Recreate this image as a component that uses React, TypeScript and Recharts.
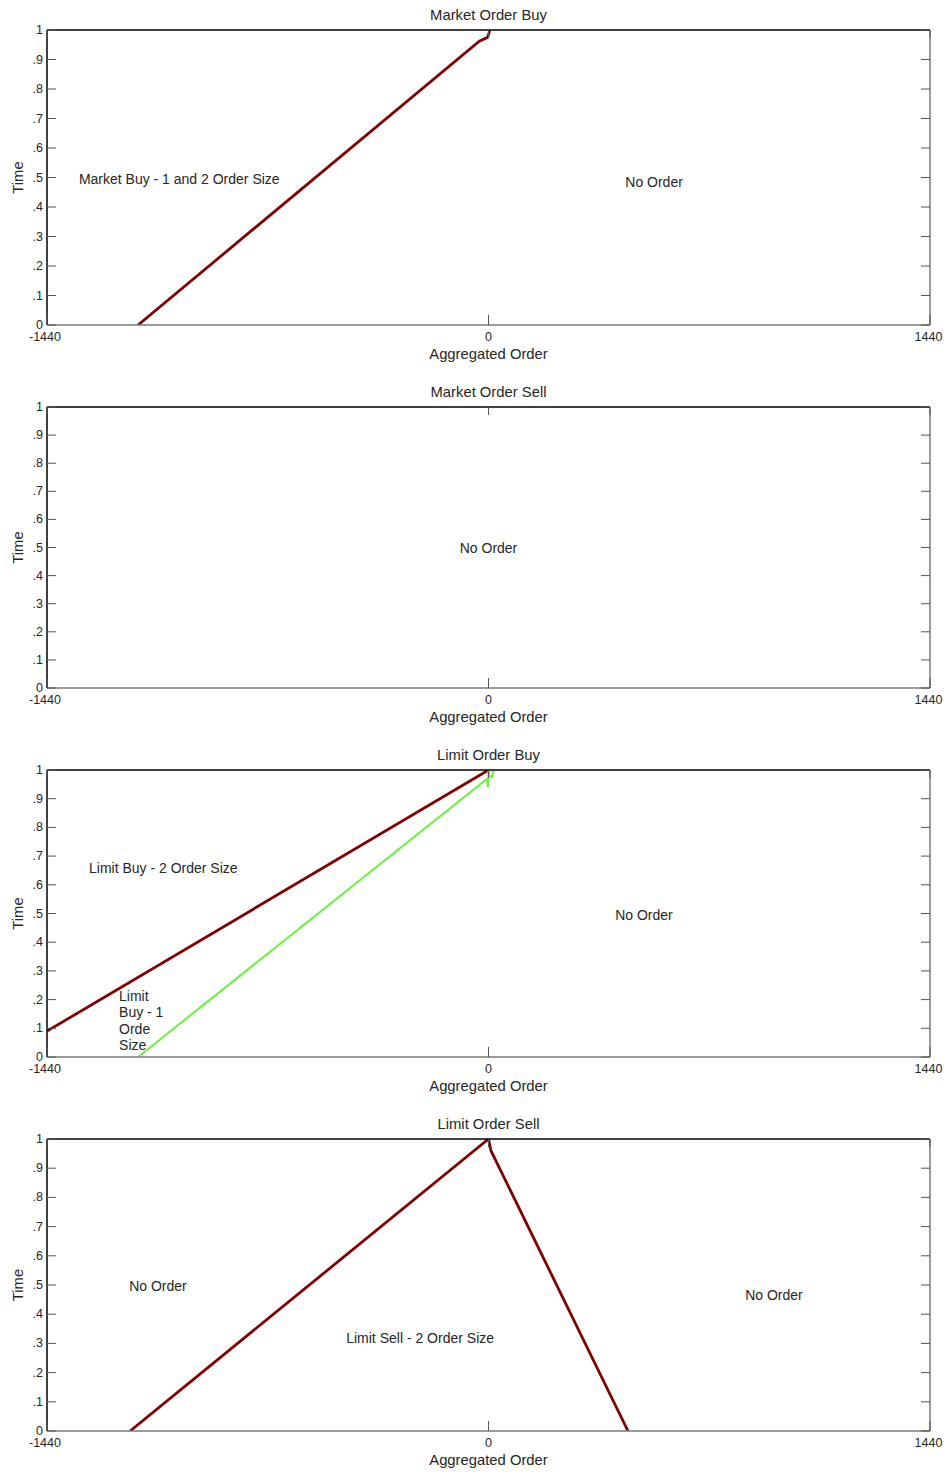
import React from 'react';
import { LineChart, Line, XAxis, YAxis, ReferenceDot, Label } from 'recharts';

const FONT = '"Liberation Sans", Arial, Helvetica, sans-serif';
const TEXT_COLOR = '#262626';
const TICK_COLOR = '#555555';
const RED = '#820000';
const GREEN = '#74f04e';
const TITLE_SIZE = 14.8;

const X_DOMAIN: [number, number] = [-1440, 1440];
const X_TICKS = [-1440, 0, 1440];
const X_TICK_LABELS = ['-1440', '0', '1440'];
const Y_TICKS = [0, 0.1, 0.2, 0.3, 0.4, 0.5, 0.6, 0.7, 0.8, 0.9, 1];
const Y_TICK_LABELS = ['0', '.1', '.2', '.3', '.4', '.5', '.6', '.7', '.8', '.9', '1'];

const X_LABEL = 'Aggregated Order';
const Y_LABEL = 'Time';

const PANEL_TITLES = ['Market Order Buy', 'Market Order Sell', 'Limit Order Buy', 'Limit Order Sell'];

// series data (x = aggregated order, y = time)
const marketBuyX = [-1143, -30, -3, 2, 3];
const marketBuyY = [0, 0.962, 0.975, 0.99, 1];

const limitBuy2X = [-1440, 0];
const limitBuy2Y = [0.09, 1];

const limitBuy1X = [-1143, -4, -2, 0, 3, 13, 14];
const limitBuy1Y = [0, 0.97, 0.94, 1, 0.98, 0.975, 1];

const limitSellX = [-1169, 0, 8, 455];
const limitSellY = [0, 1, 0.96, 0];

// annotations: data-space anchor, text lines, text anchor
const notes1 = [
  { x: -1336, y: 0.495, lines: ['Market Buy - 1 and 2 Order Size'], anchor: 'start' },
  { x: 540, y: 0.485, lines: ['No Order'], anchor: 'middle' },
];
const notes2 = [{ x: 0, y: 0.498, lines: ['No Order'], anchor: 'middle' }];
const notes3 = [
  { x: -1303, y: 0.659, lines: ['Limit Buy - 2 Order Size'], anchor: 'start' },
  { x: 507, y: 0.495, lines: ['No Order'], anchor: 'middle' },
  { x: -1205, y: 0.2125, lines: ['Limit', 'Buy - 1', 'Orde', 'Size'], anchor: 'start' },
];
const notes4 = [
  { x: -1078, y: 0.497, lines: ['No Order'], anchor: 'middle' },
  { x: -223, y: 0.318, lines: ['Limit Sell - 2 Order Size'], anchor: 'middle' },
  { x: 931, y: 0.466, lines: ['No Order'], anchor: 'middle' },
];

const zip = (xs: number[], ys: number[]) => xs.map((x, i) => ({ x, y: ys[i] }));

type SeriesDef = { data: { x: number; y: number }[]; color: string; width: number };
type NoteDef = { x: number; y: number; lines: string[]; anchor: string };

const panels: { top: number; height: number; title: string; series: SeriesDef[]; notes: NoteDef[] }[] = [
  { top: 30, height: 295, title: PANEL_TITLES[0], series: [{ data: zip(marketBuyX, marketBuyY), color: RED, width: 2.8 }], notes: notes1 },
  { top: 407, height: 281, title: PANEL_TITLES[1], series: [], notes: notes2 },
  {
    top: 770,
    height: 287,
    title: PANEL_TITLES[2],
    series: [
      { data: zip(limitBuy2X, limitBuy2Y), color: RED, width: 2.8 },
      { data: zip(limitBuy1X, limitBuy1Y), color: GREEN, width: 2.2 },
    ],
    notes: notes3,
  },
  { top: 1139, height: 292, title: PANEL_TITLES[3], series: [{ data: zip(limitSellX, limitSellY), color: RED, width: 2.8 }], notes: notes4 },
];

const fmtY = (v: number) => {
  const i = Y_TICKS.findIndex((t) => Math.abs(t - v) < 1e-9);
  return i >= 0 ? Y_TICK_LABELS[i] : String(v);
};
const fmtX = (v: number) => {
  const i = X_TICKS.indexOf(v);
  return i >= 0 ? X_TICK_LABELS[i] : String(v);
};

const LeftTick = (p: any) => (
  <g>
    <line x1={p.x} y1={p.y} x2={p.x + 9} y2={p.y} stroke={TICK_COLOR} strokeWidth={1} />
    <text x={p.x - 4} y={p.y} textAnchor="end" dominantBaseline="central" fontSize={12.5} fontFamily={FONT} fill={TEXT_COLOR}>
      {fmtY(p.payload.value)}
    </text>
  </g>
);
const RightTick = (p: any) => (
  <line x1={p.x} y1={p.y} x2={p.x - 9} y2={p.y} stroke={TICK_COLOR} strokeWidth={1} />
);
const BottomTick = (p: any) => (
  <g>
    <line x1={p.x} y1={p.y} x2={p.x} y2={p.y - 10} stroke={TICK_COLOR} strokeWidth={1} />
    <text x={p.x - (p.payload.value < 0 ? 2 : p.payload.value > 0 ? 1.5 : 0)} y={p.y + 12} textAnchor="middle" dominantBaseline="central" fontSize={12.5} fontFamily={FONT} fill={TEXT_COLOR}>
      {fmtX(p.payload.value)}
    </text>
  </g>
);
const TopTick = (p: any) => (
  <line x1={p.x} y1={p.y} x2={p.x} y2={p.y + 8} stroke={TICK_COLOR} strokeWidth={1} />
);

const makeNoteLabel = (note: NoteDef) => (props: any) => {
  const vb = props.viewBox || { x: 0, y: 0, width: 0, height: 0 };
  const cx = vb.x + (vb.width || 0) / 2;
  const cy = vb.y + (vb.height || 0) / 2;
  return (
    <text x={cx} y={cy} textAnchor={note.anchor as any} fontSize={14} fontFamily={FONT} fill={TEXT_COLOR}>
      {note.lines.map((ln, i) => (
        <tspan key={i} x={cx} y={cy + i * 16.3} dominantBaseline="central">
          {ln}
        </tspan>
      ))}
    </text>
  );
};

const PLOT_LEFT = 47;
const PLOT_RIGHT_MARGIN = 16;

const Panel = ({ top, height, title, series, notes }: (typeof panels)[number]) => {
  const mTop = 30;
  const mBottom = 45;
  const plotBottom = mTop + height;
  const plotWidth = 946 - PLOT_LEFT - PLOT_RIGHT_MARGIN;
  return (
    <div style={{ position: 'absolute', left: 0, top: top - mTop }}>
      <LineChart width={946} height={height + mTop + mBottom} margin={{ top: mTop - 1, right: PLOT_RIGHT_MARGIN - 1, bottom: mBottom - 1, left: PLOT_LEFT - 1 }}>
        <XAxis
          xAxisId="b"
          type="number"
          dataKey="x"
          domain={X_DOMAIN}
          ticks={X_TICKS}
          interval={0}
          allowDataOverflow
          height={1}
          tickSize={0}
          tickMargin={0}
          tickLine={false}
          tick={<BottomTick />}
          axisLine={{ stroke: '#7a7a7a', strokeWidth: 1.5 }}
        >
          <Label
            content={() => (
              <text x={PLOT_LEFT + plotWidth / 2} y={plotBottom + 29} textAnchor="middle" dominantBaseline="central" fontSize={TITLE_SIZE} fontFamily={FONT} fill={TEXT_COLOR}>
                {X_LABEL}
              </text>
            )}
          />
        </XAxis>
        <XAxis
          xAxisId="t"
          orientation="top"
          type="number"
          dataKey="x"
          domain={X_DOMAIN}
          ticks={X_TICKS}
          interval={0}
          allowDataOverflow
          height={1}
          tickSize={0}
          tickMargin={0}
          tickLine={false}
          tick={<TopTick />}
          axisLine={{ stroke: '#000000', strokeWidth: 1.5 }}
        >
          <Label
            content={() => (
              <text x={PLOT_LEFT + plotWidth / 2} y={mTop - 15} textAnchor="middle" dominantBaseline="central" fontSize={TITLE_SIZE} fontFamily={FONT} fill={TEXT_COLOR}>
                {title}
              </text>
            )}
          />
        </XAxis>
        <YAxis
          yAxisId="l"
          type="number"
          domain={[0, 1]}
          ticks={Y_TICKS}
          interval={0}
          allowDataOverflow
          width={1}
          tickSize={0}
          tickMargin={0}
          tickLine={false}
          tick={<LeftTick />}
          axisLine={{ stroke: '#000000', strokeWidth: 1.5 }}
        >
          <Label
            content={() => {
              const cy = mTop + height / 2;
              const cx = PLOT_LEFT - 29;
              return (
                <text x={cx} y={cy} transform={`rotate(-90 ${cx} ${cy})`} textAnchor="middle" dominantBaseline="central" fontSize={TITLE_SIZE} fontFamily={FONT} fill={TEXT_COLOR}>
                  {Y_LABEL}
                </text>
              );
            }}
          />
        </YAxis>
        <YAxis
          yAxisId="r"
          orientation="right"
          type="number"
          domain={[0, 1]}
          ticks={Y_TICKS}
          interval={0}
          allowDataOverflow
          width={1}
          tickSize={0}
          tickMargin={0}
          tickLine={false}
          tick={<RightTick />}
          axisLine={{ stroke: '#7a7a7a', strokeWidth: 1.5 }}
        />
        {series.map((s, i) => (
          <Line
            key={i}
            xAxisId="b"
            yAxisId="l"
            data={s.data}
            dataKey="y"
            type="linear"
            stroke={s.color}
            strokeWidth={s.width}
            dot={false}
            activeDot={false}
            isAnimationActive={false}
          />
        ))}
        {notes.map((n, i) => (
          <ReferenceDot
            key={'n' + i}
            xAxisId="b"
            yAxisId="l"
            x={n.x}
            y={n.y}
            r={1}
            fill="none"
            stroke="none"
            label={makeNoteLabel(n)}
          />
        ))}
      </LineChart>
    </div>
  );
}

export default function App() {
  return (
    <div style={{ position: 'absolute', left: 0, top: 0, width: 946, height: 1475, background: '#ffffff', fontFamily: FONT }}>
      {panels.map((p, i) => (
        <Panel key={i} {...p} />
      ))}
    </div>
  );
}
